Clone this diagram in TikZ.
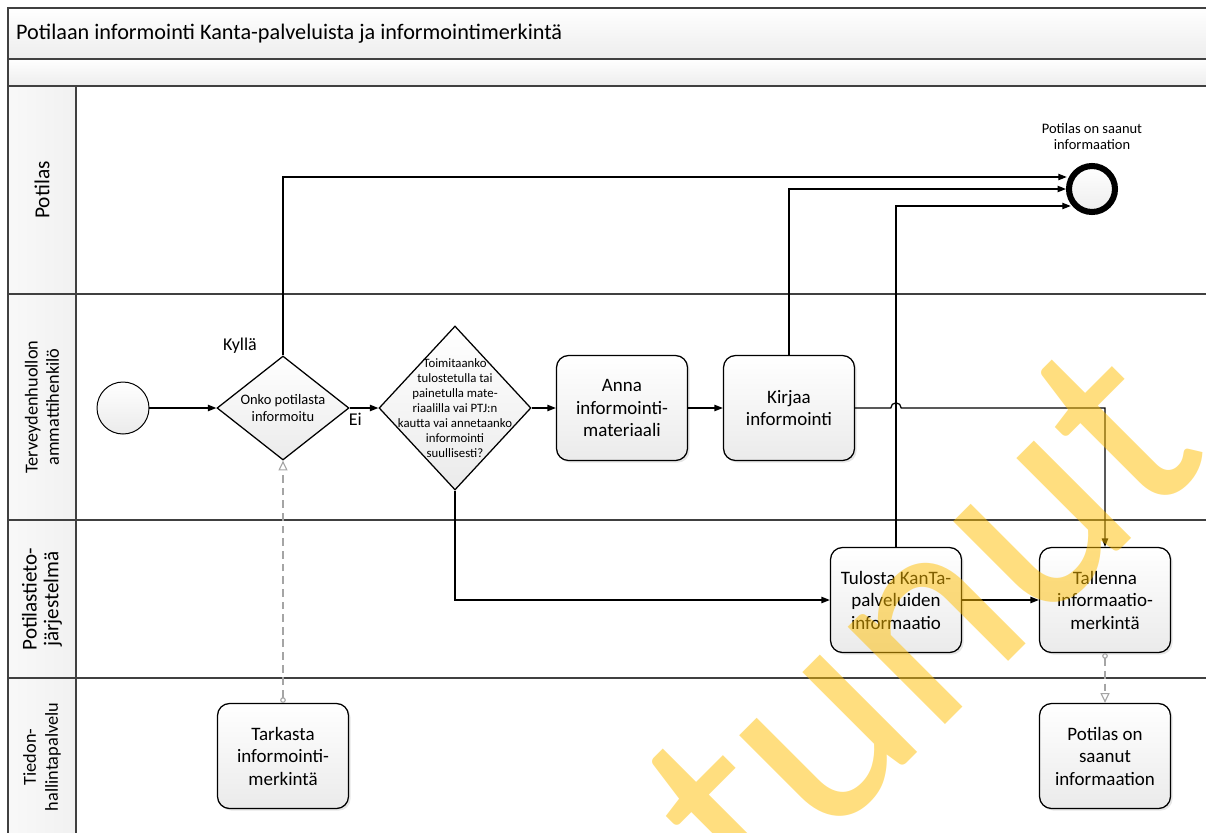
\documentclass[tikz,border=0pt]{standalone}
\usepackage{fontspec}
\setmainfont{Carlito}
\usepackage{tikz}
\usetikzlibrary{calc, shapes, arrows.meta, shadows}

\definecolor{laneline}{RGB}{64,64,64}
\definecolor{msggray}{RGB}{165,165,165}
\definecolor{stampcol}{RGB}{255,190,0}

\begin{document}
\begin{tikzpicture}[>={Triangle[length=6pt, width=4.5pt]}]

    \tikzstyle{flow}=[draw=black, line width=0.9pt];
    \tikzstyle{msg}=[draw=msggray, line width=0.8pt, dash pattern=on 5.5pt off 3.5pt, arrows={Circle[open, length=4pt]-Triangle[open, length=7pt, width=6.5pt]}];
    \tikzstyle{task}=[rectangle, rounded corners=0.3cm, draw=black, line width=0.9pt, top color=white, bottom color=gray!16, minimum width=3.275cm, minimum height=2.625cm, align=center, font=\fontsize{13.5}{16}\selectfont, drop shadow={shadow xshift=1.5pt, shadow yshift=-1.5pt, opacity=0.2}];
    \tikzstyle{gateway}=[diamond, draw=black, line width=0.9pt, top color=white, bottom color=gray!16, inner sep=0pt];
    \tikzstyle{lanetitle}=[rotate=90, align=center];

    \clip (0,0) rectangle (30.15,-20.8);

    \draw[laneline, line width=0.8pt, top color=white, bottom color=gray!14] (0.2,-0.2) rectangle (30.6,-1.475);
    \draw[laneline, line width=0.8pt, top color=white, bottom color=gray!14] (0.2,-1.475) rectangle (30.6,-2.15);
    \draw[laneline, line width=0.8pt, left color=gray!5, right color=gray!11] (0.2,-2.15) rectangle (1.9,-21);
    \draw[laneline, line width=0.8pt] (0.2,-2.15) rectangle (30.6,-21);
    \draw[laneline, line width=0.8pt] (0.2,-7.35) -- (30.6,-7.35);
    \draw[laneline, line width=0.8pt] (0.2,-13.0) -- (30.6,-13.0);
    \draw[laneline, line width=0.8pt] (0.2,-16.95) -- (30.6,-16.95);

    \node[anchor=west, font=\fontsize{15.8}{18}\selectfont] (title) at (0.28,-0.84) {Potilaan informointi Kanta-palveluista ja informointimerkintä};

    \node[lanetitle, font=\fontsize{15.2}{18}\selectfont] (lpotilas) at (1.05,-4.75) {Potilas};
    \node[lanetitle, font=\fontsize{13}{15}\selectfont] (lterv) at (1.05,-10.175) {Terveydenhuollon\\ammattihenkilö};
    \node[lanetitle, font=\fontsize{15}{15.6}\selectfont] (lptj) at (1.05,-14.975) {Potilastieto-\\järjestelmä};
    \node[lanetitle, font=\fontsize{13}{15.6}\selectfont] (ltiedon) at (1.05,-18.925) {Tiedon-\\hallintapalvelu};

    \node[circle, draw=black, line width=0.7pt, top color=white, bottom color=gray!16, minimum size=1.3cm, inner sep=0pt] (start) at (3.075,-10.2) {};
    \node[gateway, minimum width=3.3cm, minimum height=2.6cm, label={[align=center, font=\fontsize{10.3}{12}\selectfont]center:{Onko potilasta\\informoitu}}] (gw1) at ($(start)+(4,0)$) {};
    \node[gateway, minimum width=3.8cm, minimum height=4.1cm, label={[align=center, font=\fontsize{9.1}{10.7}\selectfont]center:{Toimitaanko\\tulostetulla tai\\painetulla mate-\\riaalilla vai PTJ:n\\kautta vai annetaanko\\informointi\\suullisesti?}}] (gw2) at ($(gw1)+(4.3,0)$) {};
    \node[task] (anna) at ($(gw2)+(4.175,0)$) {Anna\\informointi-\\materiaali};
    \node[task] (kirjaa) at ($(anna)+(4.175,0)$) {Kirjaa\\informointi};
    \node[task] (tulosta) at ($(kirjaa)+(2.675,-4.8)$) {Tulosta KanTa-\\palveluiden\\informaatio};
    \node[task] (tallenna) at ($(tulosta)+(5.225,0)$) {Tallenna\\informaatio-\\merkintä};
    \node[task] (saanut) at ($(tallenna)+(0,-3.9)$) {Potilas on\\saanut\\informaation};
    \node[task] (tarkasta) at ($(gw1)+(0,-8.7)$) {Tarkasta\\informointi-\\merkintä};
    \node[circle, draw=black, line width=4.3pt, top color=white, bottom color=gray!14, minimum size=1.15cm, inner sep=0pt, label={[align=center, yshift=0.2cm, font=\fontsize{10.3}{12}\selectfont]above:{Potilas on saanut\\informaation}}] (endev) at ($(kirjaa)+(7.575,5.475)$) {};

    \node[font=\fontsize{12.8}{15}\selectfont] (kylla) at ($(gw1.north)+(-1.075,0.25)$) {Kyllä};

    \coordinate (in1) at ($(endev.west)+(0.02,0.3)$);
    \coordinate (in3) at ($(endev.west)+(0.12,-0.425)$);

    \draw (start) edge[->, flow] (gw1);
    \draw (gw1) edge[->, flow] node[below, pos=0.2, font=\fontsize{12.8}{15}\selectfont] (ei) {Ei} (gw2);
    \draw (gw2) edge[->, flow] (anna);
    \draw (anna) edge[->, flow] (kirjaa);
    \draw (tulosta) edge[->, flow] (tallenna);
    \draw[->, flow] (gw1.north) |- (in1);
    \draw[->, flow] (kirjaa.north) |- (endev.west);
    \draw[->, flow] (tulosta.north) |- (in3);
    \draw[->, flow] (gw2.south) |- (tulosta.west);
    \draw[->, flow] (kirjaa.east) -- ($(kirjaa.east -| tulosta.north)+(-0.13,0)$) arc[start angle=180, end angle=0, radius=0.13] -| (tallenna.north);
    \draw[msg] (tallenna.south) -- (saanut.north);
    \draw[msg] (tarkasta.north) -- (gw1.south);

    \node[rotate=45, anchor=base east, inner sep=0pt, text=stampcol, text opacity=0.5, font=\fontsize{205}{205}\selectfont] (stamp) at (30.35,-11.4) {Vanhentunut};
\end{tikzpicture}
\end{document}
